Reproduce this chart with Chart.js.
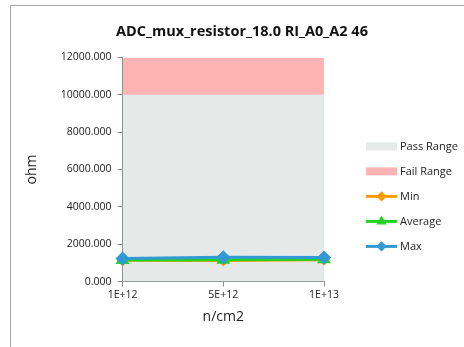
<!DOCTYPE html>
<html>
<head>
<meta charset="utf-8">
<script src="https://cdn.jsdelivr.net/npm/chart.js@4.4.1/dist/chart.umd.min.js"></script>
<style>
    body { margin: 0; background: #ffffff; overflow: hidden; }
    #frame {
        position: absolute; left: 10px; top: 5px;
        width: 470px; height: 360px;
        border: 1px solid #a6a6a6;
        background: #ffffff;
    }
    #frame canvas { position: absolute; left: 0; top: 0; }
</style>
</head>
<body>
<div id="frame"><canvas id="Graph" width="449" height="360"></canvas></div>
<script>
// Datos de la gráfica
const categories = ['1E+12', '5E+12', '1E+13'];
const passRange = [10000, 10000, 10000];
const failRange = [12000, 12000, 12000];
const minValues = [1140, 1130, 1170];
const avgValues = [1160, 1170, 1190];
const maxValues = [1230, 1300, 1290];
const yTicks = [0, 2000, 4000, 6000, 8000, 10000, 12000];

const FONT = "'Open Sans', 'Liberation Sans', sans-serif";

// Leyenda dibujada a mano a la derecha del área del gráfico
const legendPlugin = {
    id: 'sideLegend',
    afterDraw(chart) {
        const ctx = chart.ctx;
        const area = chart.chartArea;
        const x0 = area.right + 42;
        let y = area.top + 89;
        const items = chart.data.datasets.slice().sort((a, b) => a.legendOrder - b.legendOrder);
        ctx.save();
        items.forEach(ds => {
            if (ds.legendType === 'box') {
                ctx.fillStyle = ds.backgroundColor;
                ctx.fillRect(x0, y - 4, 31, 8);
            } else {
                ctx.strokeStyle = ds.borderColor;
                ctx.lineWidth = 3;
                ctx.beginPath();
                ctx.moveTo(x0, y);
                ctx.lineTo(x0 + 31, y);
                ctx.stroke();
                Chart.helpers.drawPoint(ctx, {
                    pointStyle: ds.pointStyle,
                    radius: 3,
                    rotation: 0,
                    borderWidth: 1
                }, x0 + 15.5, y);
                ctx.fillStyle = ds.borderColor;
                ctx.fill();
            }
            ctx.fillStyle = '#222222';
            ctx.font = '11px ' + FONT;
            ctx.textBaseline = 'middle';
            ctx.textAlign = 'left';
            ctx.fillText(ds.label, x0 + 34, y);
            y += 25;
        });
        ctx.restore();
    }
};

const canvas = document.getElementById('Graph');
new Chart(canvas, {
    type: 'line',
    data: {
        labels: categories,
        datasets: [
            {
                label: 'Max',
                data: maxValues,
                borderColor: '#3399d4',
                backgroundColor: '#3399d4',
                borderWidth: 3,
                pointStyle: 'rectRot',
                pointRadius: 5,
                fill: false,
                order: 0,
                legendOrder: 4
            },
            {
                label: 'Average',
                data: avgValues,
                borderColor: '#22d322',
                backgroundColor: '#22d322',
                borderWidth: 3,
                pointStyle: 'triangle',
                pointRadius: 5,
                fill: false,
                order: 1,
                legendOrder: 3
            },
            {
                label: 'Min',
                data: minValues,
                borderColor: '#ff9a0a',
                backgroundColor: '#ff9a0a',
                borderWidth: 3,
                pointStyle: 'rectRot',
                pointRadius: 4,
                fill: false,
                order: 2,
                legendOrder: 2
            },
            {
                label: 'Fail Range',
                data: failRange,
                borderWidth: 0,
                borderColor: 'rgba(0,0,0,0)',
                backgroundColor: '#ffb3b3',
                pointRadius: 0,
                fill: { target: 4 },
                order: 3,
                legendType: 'box',
                legendOrder: 1
            },
            {
                label: 'Pass Range',
                data: passRange,
                borderWidth: 0,
                borderColor: 'rgba(0,0,0,0)',
                backgroundColor: '#e5eae9',
                pointRadius: 0,
                fill: 'origin',
                order: 4,
                legendType: 'box',
                legendOrder: 0
            }
        ]
    },
    options: {
        responsive: false,
        animation: false,
        layout: { padding: { left: 13, right: 0, top: 4, bottom: 41 } },
        plugins: {
            legend: { display: false },
            tooltip: { enabled: false },
            title: {
                display: true,
                text: 'ADC_mux_resistor_18.0 RI_A0_A2 46',
                color: '#111111',
                font: { family: FONT, size: 14.5, weight: 'bold' },
                padding: { top: 13, bottom: 17 }
            }
        },
        scales: {
            x: {
                type: 'category',
                offset: false,
                grid: {
                    display: true,
                    drawOnChartArea: false,
                    drawTicks: true,
                    tickLength: 5,
                    color: '#8c8c8c'
                },
                border: { color: '#8c8c8c', width: 1 },
                ticks: {
                    color: '#222222',
                    font: { family: FONT, size: 10.5 },
                    maxRotation: 0,
                    padding: 2
                },
                title: {
                    display: true,
                    text: 'n/cm2',
                    color: '#222222',
                    font: { family: FONT, size: 14 },
                    padding: { top: 5, bottom: 0 }
                }
            },
            y: {
                min: 0,
                max: 12000,
                afterBuildTicks(scale) {
                    scale.ticks = yTicks.map(v => ({ value: v }));
                },
                grid: {
                    display: true,
                    drawOnChartArea: false,
                    drawTicks: true,
                    tickLength: 5,
                    color: '#8c8c8c'
                },
                border: { color: '#8c8c8c', width: 1 },
                ticks: {
                    color: '#222222',
                    font: { family: FONT, size: 10.5 },
                    padding: 6,
                    callback: v => Number(v).toFixed(3)
                },
                title: {
                    display: true,
                    text: 'ohm',
                    color: '#222222',
                    font: { family: FONT, size: 14 },
                    padding: { top: 0, bottom: 14 }
                }
            },
            // eje vacío a la derecha para dejar sitio a la leyenda
            legendSpace: {
                type: 'linear',
                position: 'right',
                display: true,
                grid: { display: false, drawTicks: false },
                border: { display: false },
                ticks: { display: false },
                afterFit(scale) { scale.width = 136; }
            }
        }
    },
    plugins: [legendPlugin]
});
</script>
</body>
</html>
